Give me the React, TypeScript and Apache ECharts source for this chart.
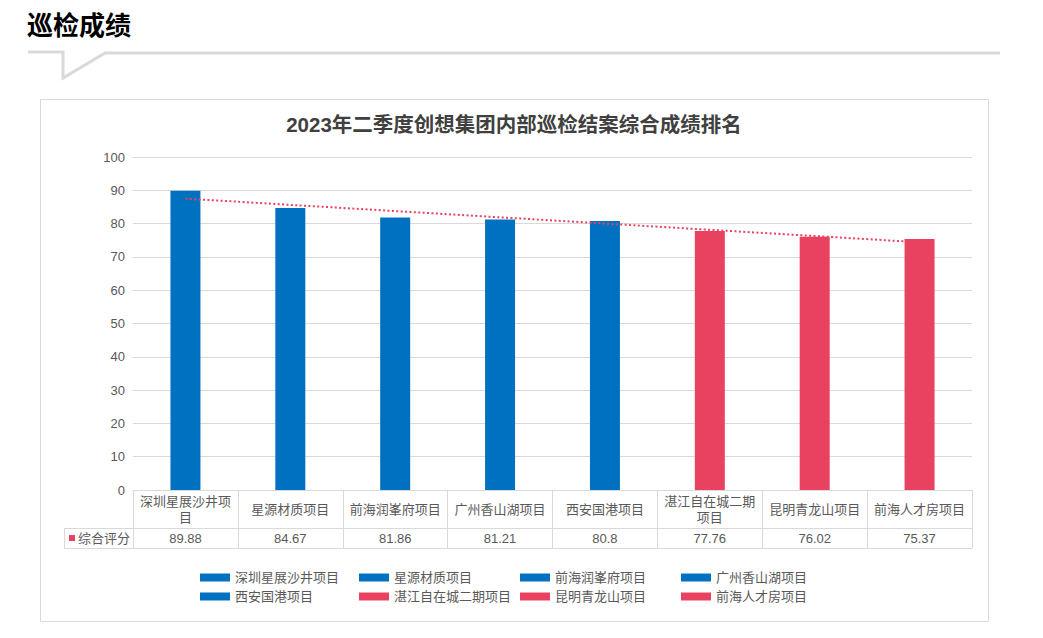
import React, { useEffect, useRef } from "react";
import * as echarts from "echarts";

const pageTitle = "巡检成绩";
const chartTitle = "2023年二季度创想集团内部巡检结案综合成绩排名";
const categories = [
  "深圳星展沙井项目",
  "星源材质项目",
  "前海润峯府项目",
  "广州香山湖项目",
  "西安国港项目",
  "湛江自在城二期项目",
  "昆明青龙山项目",
  "前海人才房项目",
];
const scores = [89.88, 84.67, 81.86, 81.21, 80.8, 77.76, 76.02, 75.37];
const rowLabel = "综合评分";
// linear trendline end points
const trendEnds = [87.5, 74.4];
const yTicks = { min: 0, max: 100, interval: 10 };

const BLUE = "#0070C0";
const RED = "#E94260";
const barColors = [BLUE, BLUE, BLUE, BLUE, BLUE, RED, RED, RED];
const GRID = "#D9D9D9";
const TXT = "#595959";
const FONT = 'Arial, "Liberation Sans", "Noto Sans CJK SC", sans-serif';

export default function App() {
  const ref = useRef<HTMLDivElement>(null);
  useEffect(() => {
    document.body.style.margin = "0";
    const chart = echarts.init(ref.current!, null, { renderer: "svg" });
    const barSeries = categories.map((name, i) => ({
      name,
      type: "bar",
      stack: "all",
      barWidth: 30,
      xAxisIndex: 0,
      itemStyle: { color: barColors[i] },
      data: categories.map((_, j) => (j === i ? scores[i] : null)),
    }));
    const trendData = categories.map((_, j) =>
      j === 0 ? trendEnds[0] : j === categories.length - 1 ? trendEnds[1] : "-"
    );
    const legends = [0, 1, 2, 3].map((c) => ({
      orient: "vertical",
      left: [195, 354, 515, 676][c],
      top: 566,
      itemWidth: 30,
      itemHeight: 8,
      itemGap: 6,
      icon: "rect",
      textStyle: { color: TXT, fontSize: 13, fontFamily: FONT },
      data: [categories[c], categories[c + 4]].map((n) => ({ name: n, icon: "rect" })),
    }));
    chart.setOption({
      animation: false,
      textStyle: { fontFamily: FONT },
      grid: { left: 133, right: 71, top: 157, bottom: 148 },
      legend: legends,
      xAxis: [
        {
          type: "category",
          data: categories,
          position: "bottom",
          axisLine: { show: true, lineStyle: { color: GRID } },
          axisTick: { show: true, interval: 0, length: 58, lineStyle: { color: GRID } },
          axisLabel: {
            interval: 0,
            color: TXT,
            fontSize: 13,
            fontFamily: FONT,
            margin: 19,
            verticalAlign: "middle",
            width: 98,
            overflow: "break",
            lineHeight: 16,
          },
        },
        {
          type: "category",
          data: scores.map((v) => String(v)),
          position: "bottom",
          offset: 38,
          axisLine: { show: true, lineStyle: { color: GRID } },
          axisTick: { show: false },
          axisLabel: {
            interval: 0,
            color: TXT,
            fontSize: 13,
            fontFamily: FONT,
            margin: 10,
            verticalAlign: "middle",
          },
        },
        {
          type: "category",
          data: categories,
          position: "bottom",
          offset: 58,
          axisLine: { show: true, lineStyle: { color: GRID } },
          axisTick: { show: false },
          axisLabel: { show: false },
        },
      ],
      yAxis: {
        type: "value",
        min: yTicks.min,
        max: yTicks.max,
        interval: yTicks.interval,
        axisLine: { show: false },
        axisTick: { show: false },
        axisLabel: { color: TXT, fontSize: 13, fontFamily: FONT, margin: 8 },
        splitLine: { lineStyle: { color: GRID } },
      },
      series: [
        ...barSeries,
        {
          name: "趋势线",
          type: "line",
          xAxisIndex: 0,
          data: trendData,
          connectNulls: true,
          symbol: "none",
          lineStyle: { color: RED, width: 2, type: [2, 2.4] },
          z: 5,
        },
      ],
      graphic: [
        {
          type: "text",
          left: 27,
          top: 10,
          style: { text: pageTitle, fontSize: 26, fontWeight: "bold", fill: "#000", fontFamily: '"Noto Sans CJK SC", sans-serif' },
        },
        {
          type: "polyline",
          shape: { points: [[28, 52], [63, 52], [63, 78], [105, 53], [1000, 53]] },
          style: { stroke: GRID, lineWidth: 3, fill: null },
        },
        {
          type: "rect",
          shape: { x: 40.5, y: 99.5, width: 948, height: 522 },
          style: { stroke: GRID, lineWidth: 1, fill: null },
        },
        {
          type: "text",
          x: 514,
          y: 124,
          style: {
            text: chartTitle,
            fontSize: 20.5,
            fontWeight: "bold",
            fill: "#404040",
            align: "center",
            verticalAlign: "middle",
            fontFamily: FONT,
          },
        },
        { type: "line", shape: { x1: 64, y1: 528.5, x2: 133, y2: 528.5 }, style: { stroke: GRID, lineWidth: 1 } },
        { type: "line", shape: { x1: 64, y1: 548.5, x2: 133, y2: 548.5 }, style: { stroke: GRID, lineWidth: 1 } },
        { type: "line", shape: { x1: 64.5, y1: 528, x2: 64.5, y2: 549 }, style: { stroke: GRID, lineWidth: 1 } },
        { type: "rect", shape: { x: 69, y: 535, width: 6, height: 6 }, style: { fill: RED } },
        {
          type: "text",
          x: 78,
          y: 538.5,
          style: { text: rowLabel, fontSize: 13, fill: TXT, verticalAlign: "middle", fontFamily: FONT },
        },
      ],
    });
    return () => chart.dispose();
  }, []);
  return <div ref={ref} style={{ width: 1043, height: 638 }} />;
}
